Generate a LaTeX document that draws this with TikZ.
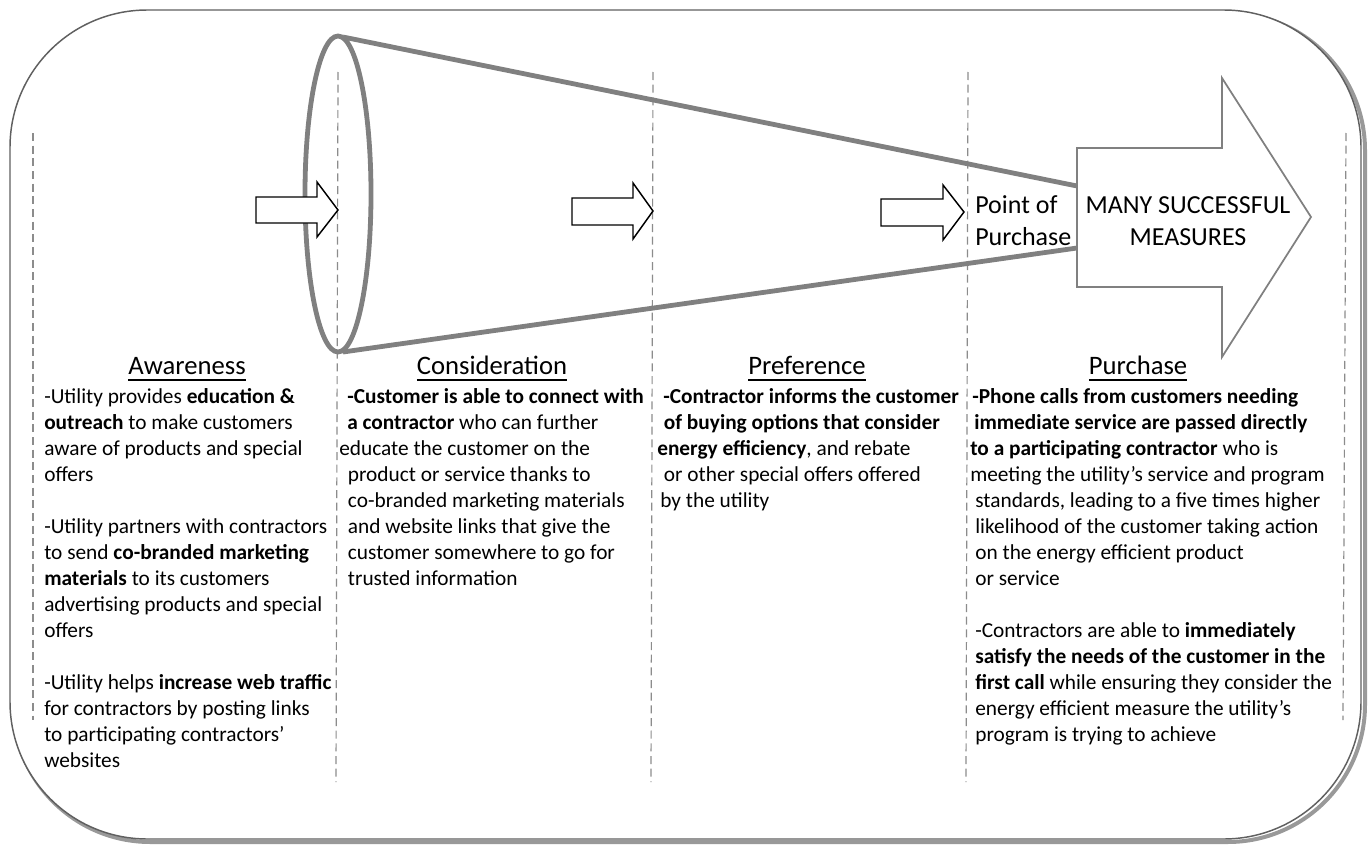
\documentclass[tikz,border=0pt]{standalone}
\usepackage{fontspec}
\setmainfont{Carlito}
\usetikzlibrary{positioning}
\definecolor{linegray}{HTML}{808080}
\definecolor{dashgray}{HTML}{8C8C8C}
\definecolor{framegray}{HTML}{606060}
\newcommand{\stagetitle}[1]{\setbox0=\hbox{#1}\rlap{\rule[-4.9pt]{\wd0}{1.4pt}}\box0}
\tikzstyle{frame} = [draw=framegray, line width=1.1pt, fill=white, rounded corners=103pt]
\tikzstyle{shadow} = [draw=gray!80, line width=3pt, rounded corners=103pt]
\tikzstyle{stage} = [draw=dashgray, line width=0.9pt, dash pattern=on 6pt off 3.5pt]
\tikzstyle{cone} = [draw=linegray, line width=3.6pt]
\tikzstyle{flow} = [draw=black, line width=1.1pt, fill=white]
\tikzstyle{result} = [draw=linegray, line width=1.3pt, fill=white]
\tikzstyle{heading} = [anchor=base, inner sep=0pt, font=\fontsize{20}{24}\selectfont]
\tikzstyle{body} = [anchor=north west, inner sep=0pt, align=left,
                    font=\fontsize{16}{19.5}\selectfont]
\tikzstyle{big} = [inner sep=0pt, font=\fontsize{19.5}{24}\selectfont]

\begin{document}
\begin{tikzpicture}[x=0.75pt, y=-0.75pt]
    \useasboundingbox (0,0) rectangle (1372,846);
    % frame with shadow
    \draw [shadow] (13,13) rectangle (1365,842);
    \draw [frame] (10,10) rectangle (1361,839);

    % stage borders
    \draw [stage] (33,133) -- (33,720);
    \draw [stage] (338,72) -- (336,782);
    \draw [stage] (653,72) -- (651,782);
    \draw [stage] (968,72) -- (966,782);
    \draw [stage] (1346,133) -- (1343,720);

    % funnel
    \draw [cone] (338,194) ellipse [x radius=33, y radius=158];
    \draw [cone] (343,37) -- (1077,186);
    \draw [cone] (343,352) -- (1077,248);
    \draw [result] (1077,148) -- (1222,148) -- (1222,78) -- (1311,217)
        -- (1222,357) -- (1222,287) -- (1077,287) -- cycle;

    % small arrows
    \draw [flow] (256,197) -- (317,197) -- (317,182) -- (338,210)
        -- (317,237) -- (317,223) -- (256,223) -- cycle;
    \draw [flow] (572,198) -- (633,198) -- (633,183) -- (653,211)
        -- (633,239) -- (633,225) -- (572,225) -- cycle;
    \draw [flow] (881,199) -- (943,199) -- (943,185) -- (964,212)
        -- (943,240) -- (943,226) -- (881,226) -- cycle;

    \node [big, align=left, anchor=west] (point) at (975,221) {Point of\\Purchase};
    \node [big, align=center] (measures) at (1188,221) {MANY SUCCESSFUL\\MEASURES};

    % stage titles
    \node [heading] (aware) at (187,374) {\stagetitle{Awareness}};
    \node [heading] (consider) at (492,374) {\stagetitle{Consideration}};
    \node [heading] (prefer) at (807,374) {\stagetitle{Preference}};
    \node [heading] (buy) at (1138,374) {\stagetitle{Purchase}};

    % stage texts
    \node [body] (awaretext) at (44,385) {\strut-Utility provides \textbf{education \&}\\
        \textbf{outreach} to make customers\\
        aware of products and special\\
        offers\\[19.5pt]
        -Utility partners with contractors\\
        to send \textbf{co-branded marketing}\\
        \textbf{materials} to its customers\\
        advertising products and special\\
        offers\\[19.5pt]
        -Utility helps \textbf{increase web traffic}\\
        for contractors by posting links\\
        to participating contractors’\\
        websites};
    \node [body] (considertext) at (339,385) {\strut\hspace*{6pt}\textbf{-Customer is able to connect with}\\
        \hspace*{6pt}\textbf{a contractor} who can further\\
        educate the customer on the\\
        \hspace*{6.5pt}product or service thanks to\\
        \hspace*{6.5pt}co-branded marketing materials\\
        \hspace*{6.5pt}and website links that give the\\
        \hspace*{6.5pt}customer somewhere to go for\\
        \hspace*{6.5pt}trusted information};
    \node [body] (prefertext) at (657,385) {\strut\hspace*{4.5pt}\textbf{-Contractor informs the customer}\\
        \hspace*{5pt}\textbf{of buying options that consider}\\
        \textbf{energy efficiency}, and rebate\\
        \hspace*{5pt}or other special offers offered\\
        \hspace*{2.3pt}by the utility};
    \node [body] (buytext) at (970,385) {\strut\hspace*{1.5pt}\textbf{-Phone calls from customers needing}\\
        \hspace*{3pt}\textbf{immediate service are passed directly}\\
        \textbf{to a participating contractor} who is\\
        meeting the utility’s service and program\\
        \hspace*{3.8pt}standards, leading to a five times higher\\
        \hspace*{3.8pt}likelihood of the customer taking action\\
        \hspace*{3.8pt}on the energy efficient product\\
        \hspace*{3.8pt}or service\\[19.5pt]
        \hspace*{3.8pt}-Contractors are able to \textbf{immediately}\\
        \hspace*{3.8pt}\textbf{satisfy the needs of the customer in the}\\
        \hspace*{3.8pt}\textbf{first call} while ensuring they consider the\\
        \hspace*{3.8pt}energy efficient measure the utility’s\\
        \hspace*{3.8pt}program is trying to achieve};
  \end{tikzpicture}
\end{document}
